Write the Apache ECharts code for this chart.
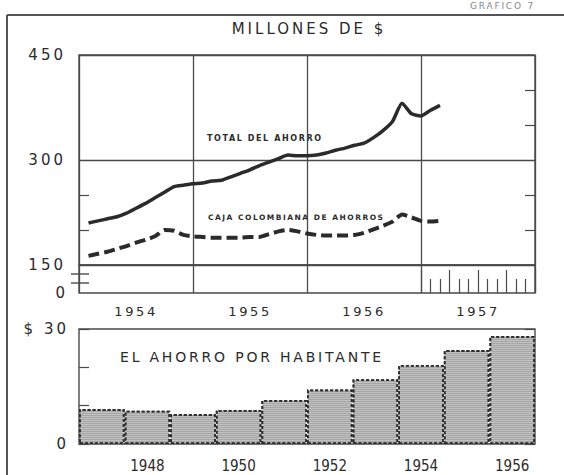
<!DOCTYPE html>
<html>
<head>
<meta charset="utf-8">
<script src="https://cdn.jsdelivr.net/npm/echarts@6/dist/echarts.min.js"></script>
<style>
  html, body { margin: 0; padding: 0; background: #fff; }
  #chart { width: 564px; height: 475px; }
  /* lettering of the original is widely spaced */
  #chart text { letter-spacing: 0.2em; }
  /* except the narrow year labels under the bars */
  #chart text[style*="Narrow"] { letter-spacing: 0; font-stretch: condensed; }
</style>
</head>
<body>
<div id="chart"></div>
<script>
// monthly values, Jan 1954 .. Feb 1957 (millones de $)
const years = ['1954', '1955', '1956', '1957'];
const totalAhorro = [
  210, 213, 216, 219, 224, 231, 238, 246, 254, 262, 264, 266,
  267, 270, 271, 276, 281, 286, 292, 297, 302, 307, 306, 306,
  307, 310, 314, 317, 321, 324, 332, 342, 355, 381, 366, 363,
  371, 378
];
const cajaColombiana = [
  163, 166, 169, 173, 177, 182, 186, 191, 200, 199, 193, 191,
  190, 189, 189, 189, 189, 190, 190, 194, 198, 200, 198, 195,
  193, 192, 192, 192, 193, 196, 201, 206, 212, 222, 218, 213,
  212, 213
];
const topTickLabels = [150, 300, 450];

// ahorro por habitante ($)
const barYears = ['1947', '1948', '1949', '1950', '1951', '1952', '1953', '1954', '1955', '1956'];
const barYearLabels = ['1948', '1950', '1952', '1954', '1956'];
const porHabitante = [9.1, 8.7, 7.8, 8.9, 11.5, 14.2, 16.9, 20.6, 24.5, 28.2];

const ink = '#2b2b2b';
const rule = '#4a4a4a';
const font = 'DejaVu Sans';
const narrow = "'DejaVu Sans Condensed', 'Liberation Sans Narrow', 'DejaVu Sans', sans-serif";

const chart = echarts.init(document.getElementById('chart'), null, { renderer: 'svg' });

const gridBox = { show: true, borderColor: rule, borderWidth: 1.4, backgroundColor: 'transparent' };

const option = {
  animation: false,
  backgroundColor: '#fff',
  grid: [
    Object.assign({ left: 79, top: 55, width: 456, height: 210 }, gridBox),
    Object.assign({ left: 79, top: 265, width: 456, height: 28 }, gridBox),
    { left: 421, top: 265, width: 114, height: 28, show: false },
    Object.assign({ left: 79, top: 329, width: 456, height: 115 }, gridBox)
  ],
  xAxis: [
    {
      gridIndex: 0, type: 'value', min: 0, max: 48, interval: 12,
      axisLine: { show: false }, axisTick: { show: false }, axisLabel: { show: false },
      splitLine: { show: true, lineStyle: { color: rule, width: 1.3 } }
    },
    {
      gridIndex: 1, type: 'category', data: years, boundaryGap: true,
      axisLine: { show: false }, axisTick: { show: false },
      axisLabel: { color: ink, fontFamily: font, fontSize: 13, margin: 12 },
      splitLine: { show: true, interval: 0, lineStyle: { color: rule, width: 1.3 } }
    },
    {
      // monthly ticks of 1957, taller at each quarter
      gridIndex: 2, type: 'value', min: 36, max: 48, interval: 3,
      axisLine: { show: false }, axisLabel: { show: false }, splitLine: { show: false },
      axisTick: { show: true, inside: true, length: 23, lineStyle: { color: rule, width: 1.2 } },
      minorTick: { show: true, splitNumber: 3, length: 14, lineStyle: { color: rule, width: 1.2 } }
    },
    {
      gridIndex: 3, type: 'category', data: barYears, boundaryGap: true,
      axisLine: { show: false }, axisTick: { show: false },
      axisLabel: {
        color: ink, fontFamily: narrow, fontSize: 15, margin: 14,
        customValues: barYearLabels
      },
      splitLine: { show: false }
    }
  ],
  yAxis: [
    {
      gridIndex: 0, min: 150, max: 450, interval: 150,
      axisLine: { show: false }, splitLine: { show: false },
      axisTick: { show: true, inside: true, length: 10, customValues: [200, 250], lineStyle: { color: rule, width: 1.2 } },
      axisLabel: { customValues: topTickLabels, color: ink, fontFamily: font, fontSize: 15, margin: 13 }
    },
    {
      gridIndex: 0, position: 'right', min: 150, max: 450, interval: 150,
      axisLine: { show: false }, axisTick: { show: false, inside: true }, axisLabel: { show: false },
      minorTick: { show: true, splitNumber: 3, length: 10, lineStyle: { color: rule, width: 1.2 } },
      splitLine: { show: true, lineStyle: { color: rule, width: 1.3 } }
    },
    {
      gridIndex: 1, min: 0, max: 150, interval: 150,
      axisLine: { show: false }, axisTick: { show: false }, splitLine: { show: false },
      axisLabel: { color: ink, fontFamily: font, fontSize: 15, margin: 11, formatter: v => (v === 0 ? '0' : '') }
    },
    {
      gridIndex: 3, min: 0, max: 30, interval: 10,
      axisLine: { show: false }, splitLine: { show: false },
      axisTick: { show: true, inside: true, length: 10, lineStyle: { color: rule, width: 1.2 } },
      axisLabel: {
        color: ink, fontFamily: font, fontSize: 15, margin: 10,
        formatter: v => (v === 30 ? '$ 30' : v === 0 ? '0' : '')
      }
    },
    {
      gridIndex: 3, position: 'right', min: 0, max: 30, interval: 10,
      axisLine: { show: false }, splitLine: { show: false }, axisLabel: { show: false },
      axisTick: { show: true, inside: true, length: 10, lineStyle: { color: rule, width: 1.2 } }
    },
    { gridIndex: 2, min: 0, max: 1, show: false }
  ],
  series: [
    {
      name: 'TOTAL DEL AHORRO', type: 'line', xAxisIndex: 0, yAxisIndex: 0,
      data: totalAhorro.map((v, i) => [i + 1, v]),
      symbol: 'none', smooth: 0.2,
      lineStyle: { color: ink, width: 3.5 }
    },
    {
      name: 'CAJA COLOMBIANA DE AHORROS', type: 'line', xAxisIndex: 0, yAxisIndex: 0,
      data: cajaColombiana.map((v, i) => [i + 1, v]),
      symbol: 'none', smooth: 0.2,
      lineStyle: { color: ink, width: 4, type: [11, 5] }
    },
    {
      name: 'EL AHORRO POR HABITANTE', type: 'bar', xAxisIndex: 3, yAxisIndex: 3,
      data: porHabitante, barCategoryGap: 0,
      itemStyle: {
        color: '#a6a6a6', borderColor: '#2e2e2e', borderWidth: 1.8, borderType: [3, 2],
        decal: { symbol: 'rect', symbolSize: 1, dashArrayX: [1, 0], dashArrayY: [1, 1], color: 'rgba(255,255,255,0.3)' }
      }
    }
  ],
  graphic: [
    { type: 'line', shape: { x1: 7, y1: 15, x2: 564, y2: 15 }, style: { stroke: '#555', lineWidth: 2 } },
    { type: 'line', shape: { x1: 7, y1: 15, x2: 7, y2: 475 }, style: { stroke: '#555', lineWidth: 2 } },
    { type: 'line', shape: { x1: 71, y1: 274, x2: 89, y2: 274 }, style: { stroke: rule, lineWidth: 1.4 } },
    { type: 'line', shape: { x1: 71, y1: 283, x2: 89, y2: 283 }, style: { stroke: rule, lineWidth: 1.4 } },
    { type: 'text', x: 470, y: 6, style: { text: 'GRAFICO 7', font: '9px DejaVu Sans', fill: '#888', verticalAlign: 'middle' } },
    { type: 'text', x: 309, y: 29, style: { text: 'MILLONES DE $', font: '15px DejaVu Sans', fill: ink, align: 'center', verticalAlign: 'middle' } },
    { type: 'text', x: 207, y: 138, style: { text: 'TOTAL DEL AHORRO', font: 'bold 8px DejaVu Sans', fill: ink, verticalAlign: 'middle' } },
    { type: 'text', x: 208, y: 217, style: { text: 'CAJA COLOMBIANA DE AHORROS', font: 'bold 7.5px DejaVu Sans', fill: ink, verticalAlign: 'middle' } },
    { type: 'text', x: 120, y: 357, style: { text: 'EL AHORRO POR HABITANTE', font: '14px DejaVu Sans', fill: ink, verticalAlign: 'middle' } }
  ]
};

chart.setOption(option);
</script>
</body>
</html>
